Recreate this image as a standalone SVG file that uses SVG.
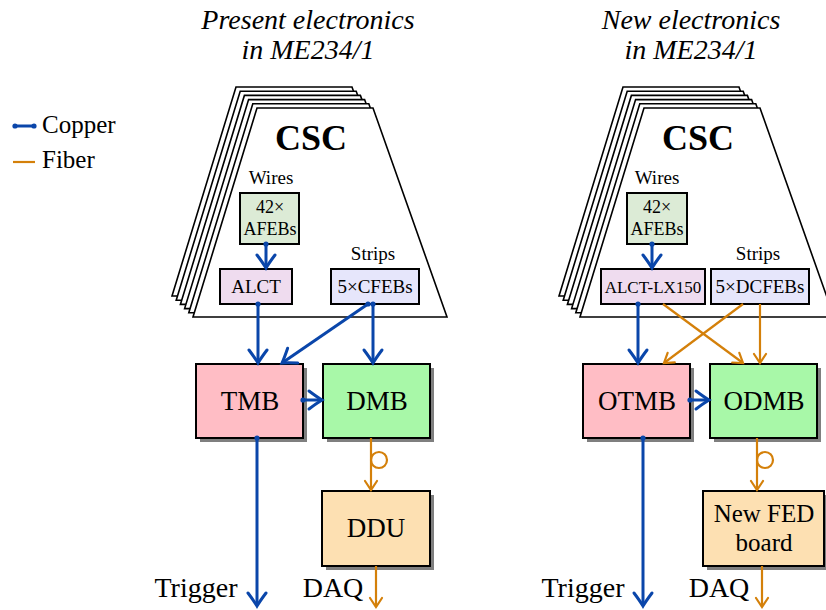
<svg xmlns="http://www.w3.org/2000/svg" width="826" height="610" viewBox="0 0 826 610" font-family="'Liberation Serif', serif">
<style>
text{font-family:'Liberation Serif', serif;fill:#000;text-anchor:middle}
.title{font-size:28px;font-style:italic}
.csc{font-size:36px;font-weight:bold}
.lbl{font-size:19px}
.big{font-size:27px}
.layer{fill:#fff;stroke:#000;stroke-width:1.6;stroke-linejoin:miter}
.box{stroke:#000;stroke-width:2}
.shadow{fill:#7f7f7f}
.cu{stroke:#0a46aa;stroke-width:3;fill:none}
.fi{stroke:#d4800a;stroke-width:2.2;fill:none}
.cua{marker-end:url(#ab);marker-start:url(#dot)}
.fia{marker-end:url(#ao)}
</style>
<defs>
<marker id="ab" markerUnits="userSpaceOnUse" viewBox="-16 -11 18 22" refX="0" refY="0" markerWidth="18" markerHeight="22" orient="auto" overflow="visible">
<path d="M-13,-9 Q-5,-3 0,0 Q-5,3 -13,9" fill="none" stroke="#0a46aa" stroke-width="3" stroke-linecap="round"/>
</marker>
<marker id="ao" markerUnits="userSpaceOnUse" viewBox="-12 -8 14 16" refX="0" refY="0" markerWidth="14" markerHeight="16" orient="auto" overflow="visible">
<path d="M-9,-6 Q-3,-2 0,0 Q-3,2 -9,6" fill="none" stroke="#d4800a" stroke-width="2.2" stroke-linecap="round"/>
</marker>
<marker id="dot" markerUnits="userSpaceOnUse" viewBox="-4 -4 8 8" refX="0" refY="0" markerWidth="8" markerHeight="8" overflow="visible">
<circle r="2.6" fill="#0a46aa"/>
</marker>
<polygon id="trap" points="257,108 373,108 447,317 193,317"/>
</defs>

<g id="legend">
<line class="cu" x1="15" y1="126" x2="34" y2="126"/>
<circle cx="15" cy="126" r="2.6" fill="#0a46aa"/>
<circle cx="34" cy="126" r="2.6" fill="#0a46aa"/>
<text x="42" y="133" style="font-size:25px;text-anchor:start">Copper</text>
<line class="fi" x1="13" y1="162" x2="35" y2="162"/>
<text x="42" y="168" style="font-size:25px;text-anchor:start">Fiber</text>
</g>

<g id="titles">
<text class="title" x="308" y="29">Present electronics</text>
<text class="title" x="308" y="59">in ME234/1</text>
<text class="title" x="691" y="29">New electronics</text>
<text class="title" x="691" y="59">in ME234/1</text>
</g>

<g id="csc-left">
<use href="#trap" class="layer" transform="translate(-21,-21)"/>
<use href="#trap" class="layer" transform="translate(-16.8,-16.8)"/>
<use href="#trap" class="layer" transform="translate(-12.6,-12.6)"/>
<use href="#trap" class="layer" transform="translate(-8.4,-8.4)"/>
<use href="#trap" class="layer" transform="translate(-4.2,-4.2)"/>
<use href="#trap" class="layer"/>
<text class="csc" x="311" y="150">CSC</text>
<text class="lbl" x="271" y="184">Wires</text>
<text class="lbl" x="373" y="260">Strips</text>
</g>

<g id="csc-right">
<use href="#trap" class="layer" transform="translate(366,-21)"/>
<use href="#trap" class="layer" transform="translate(370.2,-16.8)"/>
<use href="#trap" class="layer" transform="translate(374.4,-12.6)"/>
<use href="#trap" class="layer" transform="translate(378.6,-8.4)"/>
<use href="#trap" class="layer" transform="translate(382.8,-4.2)"/>
<use href="#trap" class="layer" transform="translate(387,0)"/>
<text class="csc" x="698" y="150">CSC</text>
<text class="lbl" x="657" y="184">Wires</text>
<text class="lbl" x="758" y="260">Strips</text>
</g>

<g id="afebs-left">
<rect class="box" x="240" y="193" width="59" height="51" fill="#dcebd6"/>
<text class="lbl" x="270" y="213" style="font-size:18px">42×</text>
<text class="lbl" x="270" y="235" style="font-size:18px">AFEBs</text>
</g>
<g id="alct">
<rect class="box" x="220" y="269" width="72" height="35" fill="#efdcef"/>
<text class="lbl" x="256" y="293">ALCT</text>
</g>
<g id="cfebs">
<rect class="box" x="331" y="269" width="88" height="35" fill="#e6e6fb"/>
<text class="lbl" x="375" y="293">5×CFEBs</text>
</g>

<g id="afebs-right">
<rect class="box" x="627" y="193" width="60" height="51" fill="#dcebd6"/>
<text class="lbl" x="657" y="213" style="font-size:18px">42×</text>
<text class="lbl" x="657" y="235" style="font-size:18px">AFEBs</text>
</g>
<g id="alct-lx150">
<rect class="box" x="601" y="269" width="104" height="35" fill="#efdcef"/>
<text class="lbl" x="653" y="293" style="font-size:17px">ALCT-LX150</text>
</g>
<g id="dcfebs">
<rect class="box" x="711" y="269" width="98" height="35" fill="#e6e6fb"/>
<text class="lbl" x="760" y="293">5×DCFEBs</text>
</g>

<g id="tmb">
<rect class="shadow" x="200" y="368" width="107" height="74"/>
<rect class="box" x="196" y="364" width="107" height="74" fill="#ffbdc5"/>
<text class="big" x="250" y="410">TMB</text>
</g>
<g id="dmb">
<rect class="shadow" x="327" y="368" width="107" height="74"/>
<rect class="box" x="323" y="364" width="107" height="74" fill="#a8f8a8"/>
<text class="big" x="377" y="410">DMB</text>
</g>
<g id="ddu">
<rect class="shadow" x="326" y="495" width="108" height="75"/>
<rect class="box" x="322" y="491" width="108" height="75" fill="#fde0b2"/>
<text class="big" x="376" y="537">DDU</text>
</g>

<g id="otmb">
<rect class="shadow" x="587" y="368" width="107" height="74"/>
<rect class="box" x="583" y="364" width="107" height="74" fill="#ffbdc5"/>
<text class="big" x="637" y="410">OTMB</text>
</g>
<g id="odmb">
<rect class="shadow" x="714" y="368" width="107" height="74"/>
<rect class="box" x="710" y="364" width="107" height="74" fill="#a8f8a8"/>
<text class="big" x="764" y="410">ODMB</text>
</g>
<g id="fed">
<rect class="shadow" x="707" y="495" width="121" height="75"/>
<rect class="box" x="703" y="491" width="121" height="75" fill="#fde0b2"/>
<text class="big" x="764" y="522" style="font-size:25px">New FED</text>
<text class="big" x="764" y="551" style="font-size:25px">board</text>
</g>

<g id="outputs">
<text x="196" y="597" style="font-size:28px">Trigger</text>
<text x="333" y="597" style="font-size:28px">DAQ</text>
<text x="583" y="597" style="font-size:28px">Trigger</text>
<text x="719" y="597" style="font-size:28px">DAQ</text>
</g>

<g id="connectors">
<line class="cu cua" x1="266" y1="244" x2="266" y2="268"/>
<line class="cu cua" x1="258" y1="304" x2="258" y2="363"/>
<line class="cu cua" x1="373" y1="304" x2="373" y2="363"/>
<line class="cu cua" x1="368" y1="304" x2="282" y2="363"/>
<line class="cu cua" x1="303" y1="400" x2="322" y2="400"/>
<line class="cu cua" x1="257" y1="438" x2="257" y2="606"/>
<path class="fi fia" d="M371,438 L371,490"/>
<circle class="fi" cx="379" cy="460" r="8"/>
<line class="fi fia" x1="376" y1="566" x2="376" y2="607"/>

<line class="cu cua" x1="652" y1="244" x2="652" y2="268"/>
<line class="cu cua" x1="638" y1="304" x2="638" y2="363"/>
<line class="fi fia" x1="663" y1="304" x2="743" y2="363"/>
<line class="fi fia" x1="743" y1="304" x2="664" y2="363"/>
<line class="fi fia" x1="760" y1="304" x2="760" y2="363"/>
<line class="cu cua" x1="690" y1="400" x2="709" y2="400"/>
<line class="cu cua" x1="643" y1="438" x2="643" y2="606"/>
<path class="fi fia" d="M757,438 L757,490"/>
<circle class="fi" cx="765" cy="460" r="8"/>
<line class="fi fia" x1="762" y1="566" x2="762" y2="607"/>
</g>
</svg>
